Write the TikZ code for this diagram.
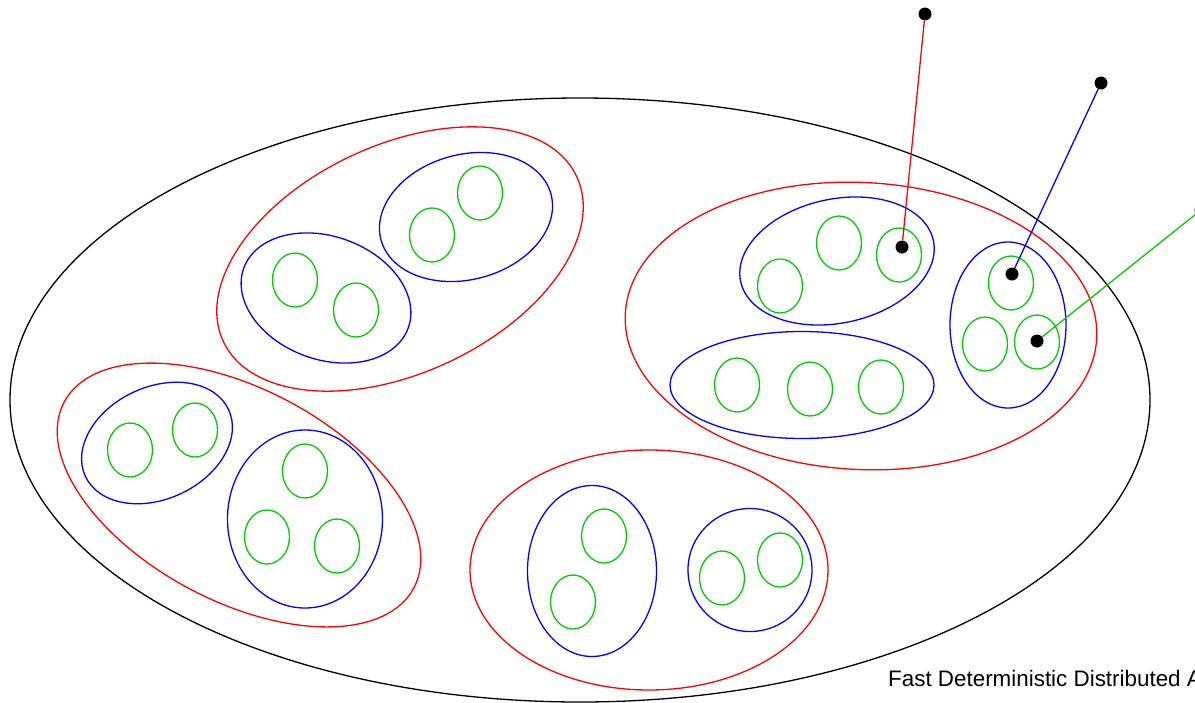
\documentclass[tikz,border=0pt]{standalone}
\usepackage{fontspec}
\setmainfont{Liberation Sans}
\usetikzlibrary{shapes.geometric}

\definecolor{setred}{RGB}{255,0,0}
\definecolor{setblue}{RGB}{0,0,255}
\definecolor{setgreen}{RGB}{0,204,0}

\begin{document}
\begin{tikzpicture}[x=1pt, y=-1pt,
    oval/.style 2 args = {ellipse, draw, inner sep=0pt, outer sep=0pt, line width=1.3pt,
            minimum width=#1, minimum height=#2},
    leaf/.style = {oval={45pt}{54pt}, setgreen},
    dot/.style = {circle, fill=black, inner sep=0pt, minimum size=13pt},
    link/.style = {line width=1.3pt}]
        \useasboundingbox (0,0) rectangle (1195,702);
        \node [oval={1140pt}{604pt}] (world) at (580,400) {};

        % top left cluster
        \node [oval={390pt}{228pt}, setred, rotate=25] (red1) at (400,259) {};
        \node [oval={175pt}{123pt}, setblue, rotate=-20] (blue1) at (326,298) {};
        \node [leaf] (g11) at (295,280) {};
        \node [leaf] (g12) at (356,310) {};
        \node [oval={176pt}{125pt}, setblue, rotate=15] (blue2) at (466,217) {};
        \node [leaf] (g21) at (432,235) {};
        \node [leaf] (g22) at (480,193) {};

        % bottom left cluster
        \node [oval={396pt}{212pt}, setred, rotate=-28] (red2) at (239,495) {};
        \node [oval={158pt}{112pt}, setblue, rotate=25] (blue3) at (157,443) {};
        \node [leaf] (g31) at (130,450) {};
        \node [leaf] (g32) at (195,430) {};
        \node [oval={155pt}{178pt}, setblue] (blue4) at (305,519) {};
        \node [leaf] (g41) at (305,471) {};
        \node [leaf] (g42) at (267,537) {};
        \node [leaf] (g43) at (337,546) {};

        % bottom cluster
        \node [oval={358pt}{240pt}, setred] (red3) at (649,570) {};
        \node [oval={129pt}{171pt}, setblue] (blue5) at (592,571) {};
        \node [leaf] (g51) at (604,536) {};
        \node [leaf] (g52) at (573,602) {};
        \node [oval={124pt}{123pt}, setblue] (blue6) at (750,570) {};
        \node [leaf] (g61) at (722,578) {};
        \node [leaf] (g62) at (780,560) {};

        % right cluster
        \node [oval={472pt}{287pt}, setred, rotate=-3] (red4) at (861,326) {};
        \node [oval={197pt}{124pt}, setblue, rotate=12] (blue7) at (837,261) {};
        \node [leaf] (g71) at (780,286) {};
        \node [leaf] (g72) at (839,243) {};
        \node [leaf] (g73) at (899,255) {};
        \node [oval={264pt}{107pt}, setblue] (blue8) at (802,385) {};
        \node [leaf] (g81) at (737,385) {};
        \node [leaf] (g82) at (810,389) {};
        \node [leaf] (g83) at (881,387) {};
        \node [oval={116pt}{166pt}, setblue] (blue9) at (1008,325) {};
        \node [leaf] (g91) at (1011,283) {};
        \node [leaf] (g92) at (985,344) {};
        \node [leaf] (g93) at (1037,342) {};

        % representatives
        \node [dot] (redtop) at (925,14) {};
        \node [dot] (redin) at (902,247) {};
        \node [dot] (bluetop) at (1101,83) {};
        \node [dot] (bluein) at (1012,274) {};
        \node [dot] (greentop) at (1201,210) {};
        \node [dot] (greenin) at (1037,341) {};
        \draw [link, setred] (redin) -- (redtop);
        \draw [link, setblue] (bluein) -- (bluetop);
        \draw [link, setgreen] (greenin) -- (greentop);

        \node [anchor=base west, inner sep=0pt, font=\fontsize{22.4}{26}\selectfont] (caption) at (888,686)
            {Fast Deterministic Distributed A};
\end{tikzpicture}
\end{document}
